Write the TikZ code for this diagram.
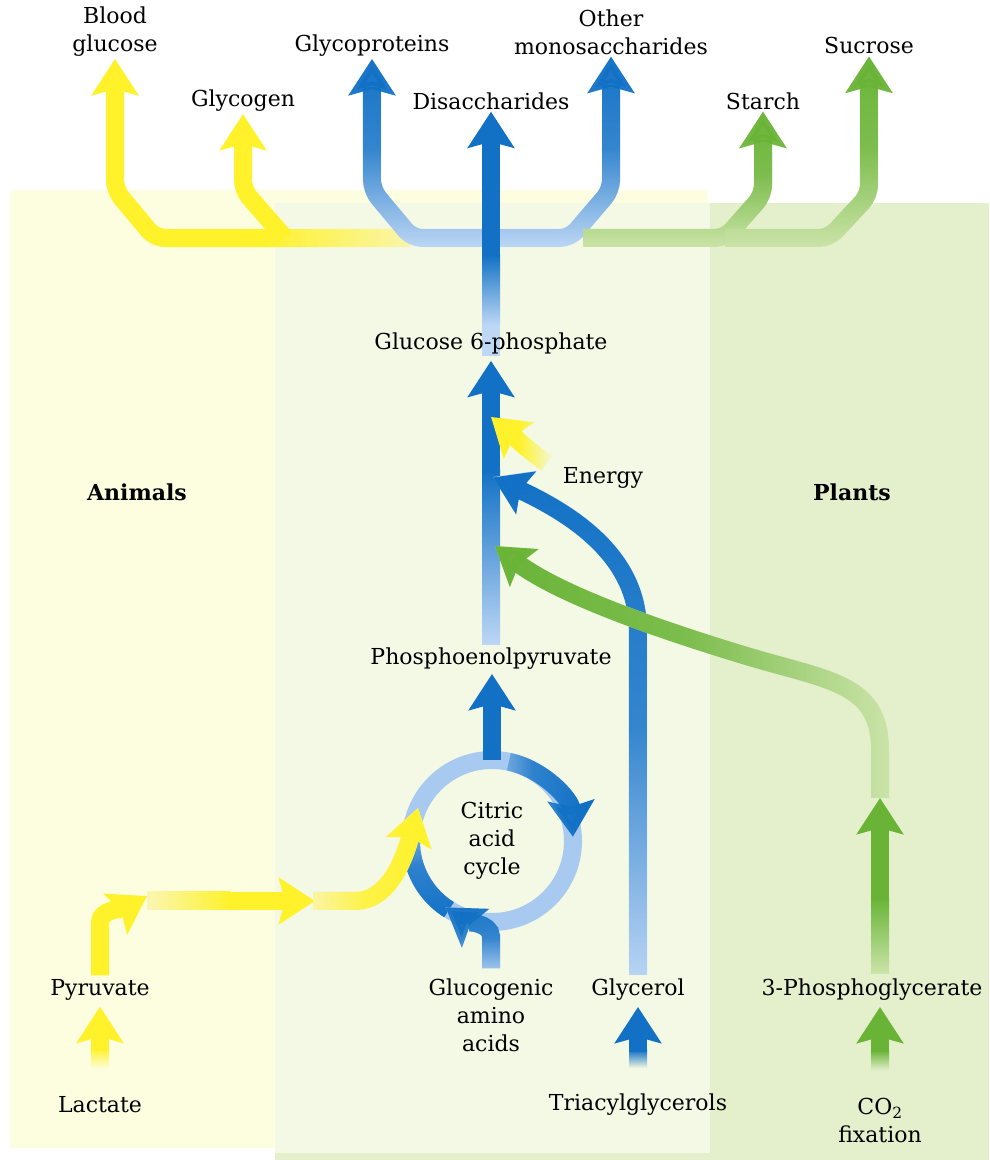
\documentclass[tikz,border=0pt]{standalone}
\usepackage{fontspec}
\setmainfont{DejaVu Serif}
\usetikzlibrary{arrows.meta,fadings}

\pgfdeclarelayer{bg}
\pgfdeclarelayer{flows}
\pgfsetlayers{bg,flows,main}

\definecolor{bgyellow}{HTML}{FDFDDF}
\definecolor{bgmid}{HTML}{F3F9E4}
\definecolor{bgplant}{HTML}{E4F0CC}
\definecolor{ylw}{HTML}{FFF22B}
\definecolor{ylwpale}{HTML}{FAF6B4}
\definecolor{blu}{HTML}{1271C5}
\definecolor{blupale}{HTML}{BDD7F5}
\definecolor{blumid}{HTML}{A8CAF0}
\definecolor{grn}{HTML}{69B437}
\definecolor{grnpale}{HTML}{CBE4A9}

\tikzfading[name=fade up, bottom color=transparent!100, top color=transparent!0, middle color=transparent!20]
\tikzfading[name=fade down, top color=transparent!100, bottom color=transparent!0, middle color=transparent!20]
\tikzfading[name=fade left, right color=transparent!100, left color=transparent!0, middle color=transparent!20]
\tikzfading[name=fade left sharp, right color=transparent!100, left color=transparent!0, middle color=transparent!0]
\tikzfading[name=fade right, left color=transparent!100, right color=transparent!0, middle color=transparent!20]

\tikzset{
  lbl/.style={inner sep=2pt, align=center, font=\fontsize{22}{28}\selectfont},
  kingdom/.style={lbl, font=\fontsize{22}{28}\selectfont\bfseries},
  flow/.style={line width=18pt, rounded corners=10pt, -{Stealth[length=36pt,width=46pt,inset=6pt]}},
  band/.style={line width=18pt, rounded corners=10pt},
}

\begin{document}
\begin{tikzpicture}[x=1pt,y=1pt]

\useasboundingbox (0,0) rectangle (989,1160);

% Nodes (placed by hand, y counted from the bottom)
\node[lbl] (BG)  at (115,1128) {Blood\\glucose};
\node[lbl] (GLC) at (243,1059) {Glycogen};
\node[lbl] (GP)  at (372,1114) {Glycoproteins};
\node[lbl] (DIS) at (491,1059) {Disaccharides};
\node[lbl] (OMS) at (611,1128) {Other\\monosaccharides};
\node[lbl] (STA) at (763,1059) {Starch};
\node[lbl] (SUC) at (869,1114) {Sucrose};

\node[lbl] (G6P) at (491,817) {Glucose 6-phosphate};
\node[lbl] (EN)  at (603,682) {Energy};
\node[lbl] (PEP) at (491,501) {Phosphoenolpyruvate};
\node[lbl] (TCA) at (492,319) {Citric\\acid\\cycle};

\node[kingdom] (ANI) at (137,668) {Animals};
\node[kingdom] (PLA) at (852,668) {Plants};

\node[lbl] (PYR) at (100,170) {Pyruvate};
\node[lbl] (LAC) at (100,55)  {Lactate};
\node[lbl] (GAA) at (491,145) {Glucogenic\\amino\\acids};
\node[lbl] (GLR) at (638,170) {Glycerol};
\node[lbl] (TAG) at (638,55)  {Triacylglycerols};
\node[lbl] (PGA) at (872,170) {3-Phosphoglycerate};
\node[lbl] (CO2) at (880,40)  {CO\textsubscript{2}\\fixation};

\coordinate (C3) at (880,362);

% Panels
\begin{pgfonlayer}{bg}
\fill[bgyellow] (10,12) rectangle (708,970);
\fill[bgplant] (275,0) rectangle (989,957);
\fill[bgmid] (275,7) rectangle (710,957);
\end{pgfonlayer}

\begin{pgfonlayer}{flows}
% Outputs at the top
\draw[flow, ylwpale] (410,922) -- (155,922) -- (115,970) -- (BG.south);
\draw[flow, ylw, path fading=fade left sharp] (410,922) -- (155,922) -- (115,970) -- (BG.south);
\draw[flow, ylw] (285,922) -- (243,970) -- (GLC.south);

\draw[flow, blupale] (491,922) -- (412,922) -- (372,970) -- (GP.south);
\draw[flow, blu, path fading=fade up] (491,922) -- (412,922) -- (372,970) -- (GP.south);
\draw[flow, blupale] (491,922) -- (570,922) -- (611,970) -- (OMS.south);
\draw[flow, blu, path fading=fade up] (491,922) -- (570,922) -- (611,970) -- (OMS.south);

\draw[flow, grnpale] (583,922) -- (725,922) -- (763,965) -- (STA.south);
\draw[flow, grn, path fading=fade up] (583,922) -- (725,922) -- (763,965) -- (STA.south);
\draw[flow, grnpale] (725,922) -- (829,922) -- (869,965) -- (SUC.south);
\draw[flow, grn, path fading=fade up] (725,922) -- (829,922) -- (869,965) -- (SUC.south);

% Main line
\draw[band, blupale] (G6P.south) -- (491,905);
\shade[top color=blu, bottom color=blupale] (482,835) rectangle (500,905);
\draw[flow, blu] (491,903) -- (DIS.south);

% Citric acid cycle
\draw[band, blumid] (TCA.center) circle[radius=81];
\draw[flow, blu, path fading=fade right] (TCA.center) ++(78:81) arc[start angle=78, end angle=3, radius=81];
\draw[band, blu, path fading=fade down] (TCA.center) ++(238:81) arc[start angle=238, end angle=165, radius=81];
\draw[flow, blu] ([yshift=81pt]TCA.center) -- ([yshift=-2pt]PEP.south -| TCA.center);
\draw[flow, blupale] ([yshift=8pt]GAA.north) -- ++(0,22) to[out=90,in=-35] ([shift={(235:81)}]TCA.center);
\draw[flow, blu, path fading=fade up] ([yshift=8pt]GAA.north) -- ++(0,22) to[out=90,in=-35] ([shift={(235:81)}]TCA.center);

% Up to glucose 6-phosphate
\shade[top color=blu, bottom color=blupale] (482,515) rectangle (500,690);
\draw[flow, blu] (491,688) -- ([yshift=-5pt]G6P.south);
\draw[flow, ylw, path fading=fade left sharp] ([shift={(-14pt,15pt)}]EN.west) to[out=145,in=-40] (491,743);

\draw[flow, blupale] ([yshift=2pt]GLR.north) -- (638,520) to[out=90,in=-25] (493,683);
\draw[flow, blu, path fading=fade up] ([yshift=2pt]GLR.north) -- (638,520) to[out=90,in=-25] (493,683);

\draw[flow, grnpale] (C3) -- (880,400) .. controls (880,470) and (840,478) .. (760,500) .. controls (660,530) and (560,565) .. (495,614);
\draw[flow, grn, path fading=fade left] (C3) -- (880,400) .. controls (880,470) and (840,478) .. (760,500) .. controls (660,530) and (560,565) .. (495,614);

% Animal side
\shade[top color=ylw, bottom color=bgyellow] ([xshift=-9pt,yshift=26pt]LAC.north) rectangle ([xshift=9pt,yshift=46pt]LAC.north);
\draw[flow, ylw] ([yshift=44pt]LAC.north) -- ([yshift=-4pt]PYR.south);
\draw[flow, ylw] ([yshift=2pt]PYR.north) -- (100,228) to[out=90,in=210] (147,264);
\shade[left color=ylwpale, right color=ylw] (147,250) rectangle (230,268);
\draw[flow, ylw] (228,259) -- (315,259);
\draw[flow, ylwpale] (313,259) -- (345,259) to[out=0,in=-105] (418,352);
\draw[flow, ylw, path fading=fade right] (313,259) -- (345,259) to[out=0,in=-105] (418,352);

% Fats and plants
\shade[top color=blu, bottom color=bgmid] ([xshift=-9pt,yshift=24pt]TAG.north) rectangle ([xshift=9pt,yshift=42pt]TAG.north);
\draw[flow, blu] ([yshift=40pt]TAG.north) -- ([yshift=-4pt]GLR.south);

\shade[top color=grn, bottom color=bgplant] ([xshift=-9pt,yshift=25pt]CO2.north) rectangle ([xshift=9pt,yshift=45pt]CO2.north);
\draw[flow, grn] ([yshift=43pt]CO2.north) -- ([yshift=-4pt]PGA.south -| CO2.north);
\shade[top color=grn, bottom color=grnpale] (871,186) rectangle (889,262);
\draw[flow, grn] (880,260) -- (C3);
\end{pgfonlayer}

\end{tikzpicture}
\end{document}
